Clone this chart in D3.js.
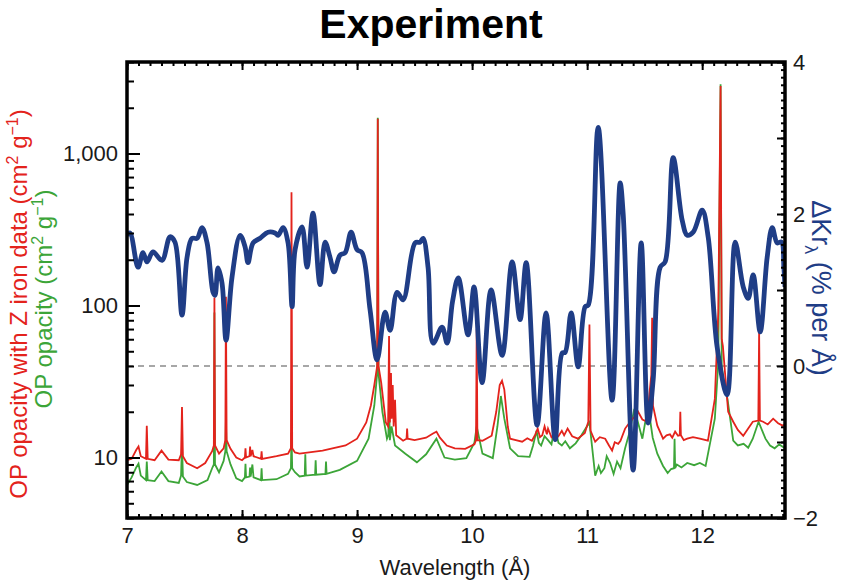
<!DOCTYPE html>
<html lang="en">
<head>
<meta charset="UTF-8">
<title>Experiment</title>
<script src="https://d3js.org/d3.v7.min.js"></script>
<style>
    body { margin: 0; background: #fff; }
    svg text { font-family: "Liberation Sans", Arial, sans-serif; }
    .axis path { display: none; }
    .axis line { stroke: #000; stroke-width: 2; }
    .axis text { font-size: 22px; fill: #1a1a1a; }
</style>
</head>
<body>
<script>
// opacity spectra [wavelength (A), opacity (cm2/g)]
var redSeries = [
    [7.00, 9.6], [7.04, 9.8], [7.08, 11.2], [7.10, 11.8], [7.12, 10.2], [7.165, 9.8], [7.172, 16.2], [7.18, 9.8],
    [7.24, 9.6], [7.30, 11.1], [7.36, 9.7], [7.45, 9.6], [7.47, 10.5], [7.478, 21.5], [7.486, 10.2], [7.52, 9.2],
    [7.61, 8.5], [7.68, 9.2], [7.74, 11.0], [7.755, 12], [7.76, 113], [7.765, 12], [7.80, 10.6], [7.84, 11.5],
    [7.855, 13], [7.86, 114], [7.866, 13], [7.90, 11.4], [7.95, 10.0], [8.00, 9.6], [8.025, 10.0], [8.03, 11.5],
    [8.035, 10.0], [8.065, 10.2], [8.07, 11.8], [8.075, 10.2], [8.09, 11.2], [8.10, 10.2], [8.165, 9.8], [8.17, 11.0],
    [8.175, 9.8], [8.30, 10.2], [8.40, 10.6], [8.425, 11.5], [8.43, 556], [8.436, 11.5], [8.46, 10.8], [8.50, 10.6],
    [8.70, 11.1], [8.90, 12.0], [9.00, 13.3], [9.08, 17], [9.12, 22], [9.15, 30], [9.175, 40], [9.18, 1694],
    [9.186, 40], [9.21, 31], [9.25, 17], [9.27, 16], [9.278, 63], [9.285, 17], [9.295, 36], [9.30, 18], [9.31, 30],
    [9.318, 16], [9.33, 24], [9.34, 14], [9.40, 12.9], [9.43, 13.3], [9.435, 15.5], [9.44, 13.3], [9.50, 13.0],
    [9.60, 13.5], [9.66, 14.4], [9.69, 14.8], [9.72, 13.5], [9.78, 12.0], [9.85, 11.5], [9.94, 11.4], [10.02, 12.2],
    [10.034, 13], [10.04, 69.8], [10.046, 13], [10.09, 12.9], [10.17, 13.9], [10.21, 20], [10.24, 30], [10.26, 32],
    [10.28, 28], [10.31, 16], [10.33, 13.3], [10.38, 13.0], [10.435, 12.7], [10.48, 13.4], [10.52, 12.9], [10.55, 14.2],
    [10.57, 15.5], [10.59, 13.6], [10.61, 14], [10.63, 16], [10.65, 14.2], [10.66, 15.5], [10.69, 13.6], [10.72, 14.3],
    [10.75, 13.8], [10.78, 15], [10.80, 14.0], [10.83, 15.5], [10.87, 13.8], [10.92, 13.3], [10.98, 14.5],
    [11.01, 17.2], [11.02, 75], [11.03, 15], [11.07, 12.7], [11.11, 13.6], [11.157, 13.3], [11.19, 12.0], [11.217, 11.1],
    [11.24, 12.6], [11.27, 12.3], [11.29, 12.9], [11.33, 15.5], [11.374, 17.2], [11.41, 18.5], [11.443, 20], [11.48, 17.8],
    [11.52, 17.2], [11.545, 28], [11.558, 35], [11.565, 83], [11.572, 22], [11.61, 16.2], [11.66, 13.3], [11.69, 14.0],
    [11.72, 14.2], [11.74, 13.5], [11.765, 14.8], [11.79, 13.9], [11.805, 14], [11.81, 20], [11.815, 14], [11.84, 13.0],
    [11.87, 13.3], [11.92, 13.6], [11.98, 13.3], [12.05, 12.9], [12.11, 24.3], [12.14, 90], [12.16, 2782], [12.17, 60],
    [12.18, 54], [12.226, 20], [12.27, 17.2], [12.31, 15.2], [12.357, 13.9], [12.40, 15.5], [12.44, 17.2], [12.488, 17.5],
    [12.495, 66.6], [12.502, 17.5], [12.53, 17.2], [12.57, 16.5], [12.617, 18], [12.66, 16.8], [12.70, 16.2], [12.72, 16.5]
];

var greenSeries = [
    [7.00, 6.6], [7.04, 7.4], [7.08, 8.6], [7.10, 9.1], [7.12, 7.6], [7.165, 7.1], [7.172, 9.4], [7.18, 7.1],
    [7.24, 7.0], [7.30, 8.1], [7.36, 7.0], [7.45, 6.8], [7.47, 7.6], [7.478, 12.3], [7.486, 7.5], [7.52, 6.9],
    [7.61, 6.6], [7.70, 7.1], [7.74, 8.5], [7.755, 9], [7.76, 90], [7.765, 9], [7.80, 8.0], [7.84, 9.5],
    [7.855, 11], [7.86, 17.5], [7.866, 11], [7.90, 9.0], [7.95, 7.3], [8.00, 7.0], [8.025, 7.4], [8.03, 9.1],
    [8.035, 7.4], [8.065, 7.5], [8.07, 8.6], [8.075, 7.5], [8.09, 9.0], [8.10, 7.4], [8.165, 7.1], [8.17, 8.5],
    [8.175, 7.1], [8.30, 7.2], [8.40, 7.8], [8.425, 8.5], [8.43, 14.5], [8.436, 8.5], [8.46, 8.0], [8.50, 7.5],
    [8.545, 7.6], [8.55, 10.5], [8.555, 7.6], [8.635, 7.7], [8.64, 9.6], [8.645, 7.7], [8.725, 7.8], [8.73, 9.4],
    [8.735, 7.8], [8.85, 8.3], [9.00, 9.5], [9.10, 13.3], [9.15, 22], [9.175, 36], [9.18, 1720], [9.186, 36],
    [9.22, 20], [9.26, 13.3], [9.272, 14], [9.278, 24], [9.285, 13], [9.30, 16], [9.33, 12], [9.42, 10.6],
    [9.52, 9.3], [9.60, 10.5], [9.69, 13.3], [9.76, 10.0], [9.85, 9.7], [9.95, 9.9], [10.02, 12.5], [10.04, 16],
    [10.09, 10.6], [10.18, 9.9], [10.22, 16], [10.25, 25.4], [10.28, 18], [10.33, 11.5], [10.40, 10.2], [10.50, 10.1],
    [10.53, 12.0], [10.56, 15], [10.58, 12.5], [10.60, 12], [10.63, 13.8], [10.66, 13], [10.69, 12.2], [10.72, 16.2],
    [10.75, 12.5], [10.78, 12], [10.81, 12.8], [10.85, 11.5], [10.90, 12.4], [10.95, 14], [11.02, 17],
    [11.07, 7.6], [11.10, 8.8], [11.12, 7.9], [11.15, 8.5], [11.17, 10.2], [11.20, 9.2], [11.23, 7.8], [11.26, 9.4],
    [11.29, 8.5], [11.33, 11.5], [11.37, 14.8], [11.41, 20.9], [11.48, 13.3], [11.53, 21.9], [11.57, 13.5],
    [11.61, 10.6], [11.66, 8.8], [11.70, 7.9], [11.73, 8.4], [11.755, 8.5], [11.76, 13.3], [11.765, 8.5], [11.78, 9.0],
    [11.82, 8.6], [11.87, 9.2], [11.93, 8.9], [11.98, 9.2], [12.03, 8.8], [12.11, 18], [12.14, 42], [12.16, 2850],
    [12.17, 40], [12.19, 30], [12.22, 24.3], [12.27, 12.9], [12.31, 12.0], [12.36, 12.3], [12.40, 11.6], [12.44, 13.3],
    [12.49, 17.2], [12.55, 13.3], [12.59, 12.0], [12.63, 11.5], [12.67, 12.2], [12.72, 11.5]
];

// delta Kr_lambda [wavelength, % per A]
var blueSeries = [
    [7.00, 1.72], [7.026, 1.75], [7.096, 1.30], [7.139, 1.49], [7.174, 1.37], [7.226, 1.50], [7.304, 1.39], [7.374, 1.70],
    [7.417, 1.63], [7.478, 0.67], [7.522, 1.43], [7.565, 1.68], [7.609, 1.68], [7.652, 1.82], [7.696, 1.62], [7.748, 0.97],
    [7.765, 0.93], [7.791, 1.29], [7.826, 1.09], [7.861, 0.34], [7.913, 1.17], [7.983, 1.72], [8.026, 1.57], [8.052, 1.36],
    [8.096, 1.62], [8.157, 1.68], [8.226, 1.76], [8.287, 1.75], [8.313, 1.72], [8.357, 1.82], [8.400, 1.62], [8.435, 0.78],
    [8.461, 1.53], [8.522, 1.83], [8.565, 1.30], [8.617, 2.01], [8.678, 1.07], [8.722, 1.63], [8.765, 1.43], [8.800, 1.24],
    [8.852, 1.46], [8.896, 1.49], [8.948, 1.76], [9.000, 1.53], [9.043, 1.49], [9.113, 0.74], [9.174, 0.08], [9.243, 0.71],
    [9.287, 0.47], [9.348, 0.97], [9.400, 0.87], [9.504, 1.62], [9.548, 1.63], [9.574, 1.68], [9.617, 1.30], [9.661, 0.30],
    [9.739, 0.51], [9.783, 0.30], [9.830, 0.85], [9.880, 1.16], [9.965, 0.41], [10.017, 1.04], [10.087, -0.22], [10.165, 1.00],
    [10.261, 0.14], [10.348, 1.37], [10.417, 0.61], [10.470, 1.36], [10.565, -0.78], [10.643, 0.70], [10.722, -0.97],
    [10.783, 0.17], [10.809, 0.18], [10.861, 0.70], [10.922, -0.01], [10.983, 0.78], [11.009, 0.80], [11.096, 3.14],
    [11.217, -0.45], [11.287, 2.41], [11.313, 2.01], [11.400, -1.37], [11.470, 1.62], [11.530, -0.75], [11.574, -0.18],
    [11.635, 1.30], [11.678, 1.37], [11.748, 2.74], [11.826, 1.92], [11.870, 1.72], [11.922, 1.76], [12.000, 2.05],
    [12.052, 1.70], [12.130, 0.25], [12.217, -0.38], [12.287, 1.63], [12.357, 1.04], [12.400, 0.89], [12.443, 1.20],
    [12.504, 0.45], [12.565, 1.43], [12.609, 1.82], [12.652, 1.62], [12.690, 1.63], [12.710, 1.30], [12.72, 1.04]
];

var xTicks = [7, 8, 9, 10, 11, 12];
var leftTicks = [10, 100, 1000];
var leftTickLabels = ["10", "100", "1,000"];
var rightTicks = [-2, 0, 2, 4];
var rightTickLabels = ["\u22122", "0", "2", "4"];

var width = 846, height = 584,
    plot = { left: 127, right: 785, top: 62, bottom: 518 },
    red = "#e3231c", green = "#3ca538", blue = "#1f3d86";

var svg = d3.select("body").append("svg")
    .attr("width", width)
    .attr("height", height);

var x = d3.scaleLinear().domain([7, 12.72]).range([plot.left, plot.right]);
var yL = d3.scaleLog().domain([4, 4000]).range([plot.bottom, plot.top]);
var yR = d3.scaleLinear().domain([-2, 4]).range([plot.bottom, plot.top]);

svg.append("clipPath").attr("id", "clip")
    .append("rect")
    .attr("x", plot.left).attr("y", plot.top)
    .attr("width", plot.right - plot.left).attr("height", plot.bottom - plot.top);

var g = svg.append("g").attr("clip-path", "url(#clip)");

// zero line of the right axis
g.append("line")
    .attr("x1", plot.left).attr("x2", plot.right)
    .attr("y1", yR(0)).attr("y2", yR(0))
    .attr("stroke", "#8a8a8a").attr("stroke-width", 1.6)
    .attr("stroke-dasharray", "6,5");

var opLine = d3.line()
    .x(function (d) { return x(d[0]); })
    .y(function (d) { return yL(d[1]); });

var krLine = d3.line()
    .x(function (d) { return x(d[0]); })
    .y(function (d) { return yR(d[1]); })
    .curve(d3.curveCatmullRom.alpha(0.5));

g.append("path").datum(greenSeries)
    .attr("d", opLine).attr("fill", "none")
    .attr("stroke", green).attr("stroke-width", 1.8);

g.append("path").datum(redSeries)
    .attr("d", opLine).attr("fill", "none")
    .attr("stroke", red).attr("stroke-width", 1.8);

g.append("path").datum(blueSeries)
    .attr("d", krLine).attr("fill", "none")
    .attr("stroke", blue).attr("stroke-width", 4.8)
    .attr("stroke-linejoin", "round");

// axes: ticks point inwards
var minorX = d3.range(70, 128).map(function (v) { return v / 10; });
var minorR = d3.range(-20, 41).map(function (v) { return v / 10; });
var minorL = [];
[1, 10, 100, 1000].forEach(function (p) {
    for (var k = 2; k <= 9; k++) { if (k * p >= 4 && k * p <= 4000) minorL.push(k * p); }
});

function addAxis(axis, tx, ty) {
    return svg.append("g").attr("class", "axis")
        .attr("transform", "translate(" + tx + "," + ty + ")")
        .call(axis);
}

addAxis(d3.axisBottom(x).tickValues(minorX).tickSize(-4).tickFormat(""), 0, plot.bottom);
addAxis(d3.axisBottom(x).tickValues(xTicks).tickSize(-8).tickPadding(9).tickFormat(d3.format("d")), 0, plot.bottom);
addAxis(d3.axisTop(x).tickValues(minorX).tickSize(-4).tickFormat(""), 0, plot.top);
addAxis(d3.axisTop(x).tickValues(xTicks).tickSize(-8).tickFormat(""), 0, plot.top);

addAxis(d3.axisLeft(yL).tickValues(minorL).tickSize(-7).tickFormat(""), plot.left, 0);
addAxis(d3.axisLeft(yL).tickValues(leftTicks).tickSize(-13).tickPadding(9)
    .tickFormat(function (d, i) { return leftTickLabels[i]; }), plot.left, 0);

addAxis(d3.axisRight(yR).tickValues(minorR).tickSize(-4).tickFormat(""), plot.right, 0);
addAxis(d3.axisRight(yR).tickValues(d3.range(-2, 5)).tickSize(-8).tickFormat(""), plot.right, 0);
addAxis(d3.axisRight(yR).tickValues(rightTicks).tickSize(0).tickPadding(8)
    .tickFormat(function (d, i) { return rightTickLabels[i]; }), plot.right, 0);

// frame
svg.append("rect")
    .attr("x", plot.left).attr("y", plot.top)
    .attr("width", plot.right - plot.left).attr("height", plot.bottom - plot.top)
    .attr("fill", "none").attr("stroke", "#000").attr("stroke-width", 3.5);

// title
svg.append("text")
    .attr("x", 431).attr("y", 38)
    .attr("text-anchor", "middle")
    .style("font-size", "41px").style("font-weight", "bold")
    .text("Experiment");

// axis titles
svg.append("text")
    .attr("x", 455).attr("y", 575)
    .attr("text-anchor", "middle")
    .style("font-size", "22px").attr("fill", "#1a1a1a")
    .text("Wavelength (\u00c5)");

function supLabel(sel, parts) {
    parts.forEach(function (p) {
        var t = sel.append("tspan").text(p[0]);
        if (p[1]) t.attr("dy", p[1]);
        if (p[2]) t.style("font-size", p[2]);
    });
}

var redLabel = svg.append("text")
    .attr("transform", "translate(27,304) rotate(-90)")
    .attr("text-anchor", "middle")
    .style("font-size", "24px").attr("fill", red);
supLabel(redLabel, [["OP opacity with Z iron data (cm"], ["2", -9, "16px"], [" g", 9], ["\u22121", -9, "16px"], [")", 9]]);

var greenLabel = svg.append("text")
    .attr("transform", "translate(52,299) rotate(-90)")
    .attr("text-anchor", "middle")
    .style("font-size", "24px").attr("fill", green);
supLabel(greenLabel, [["OP opacity (cm"], ["2", -9, "16px"], [" g", 9], ["\u22121", -9, "16px"], [")", 9]]);

var blueLabel = svg.append("text")
    .attr("transform", "translate(812,288) rotate(90)")
    .attr("text-anchor", "middle")
    .style("font-size", "27px").attr("fill", blue);
supLabel(blueLabel, [["\u0394Kr"], ["\u03bb", 7, "18px"], [" (% per \u00c5)", -7]]);
</script>
</body>
</html>
